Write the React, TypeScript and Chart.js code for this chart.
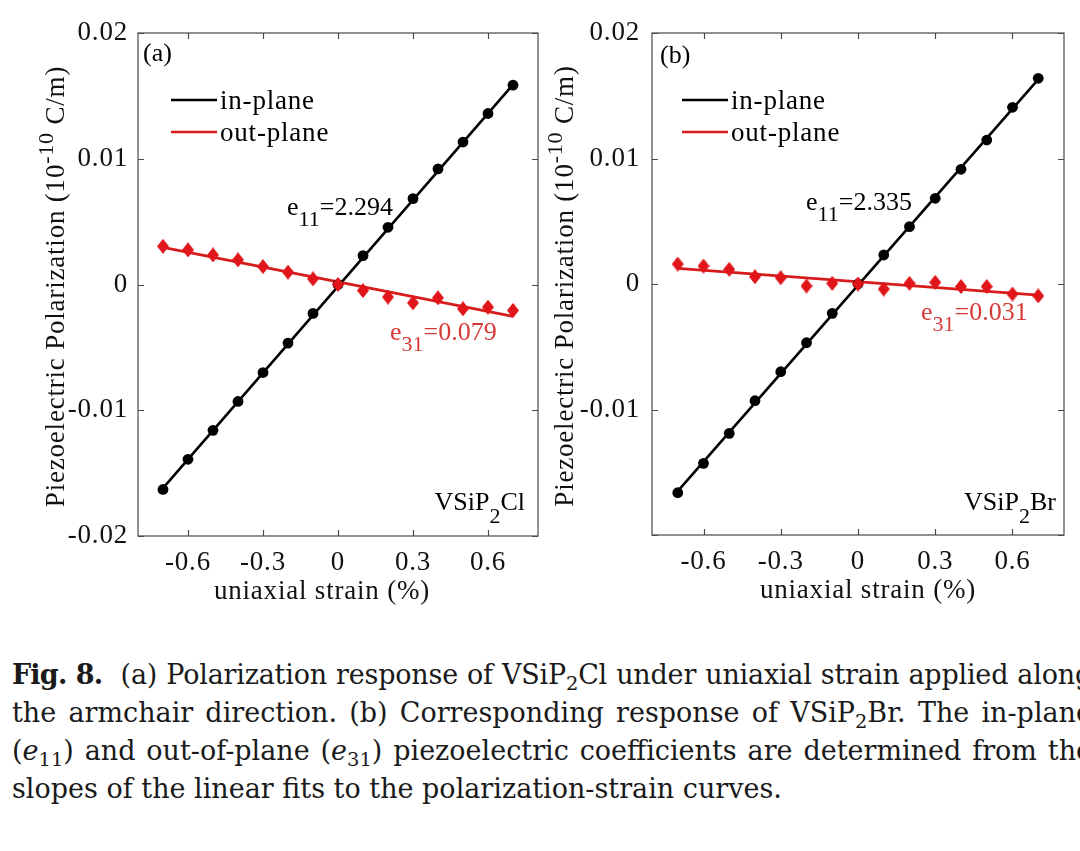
import React, { useEffect, useRef } from 'react';
import { Chart, registerables } from 'chart.js';

Chart.register(...registerables);

// ---------- data ----------
const strain = [-0.7, -0.6, -0.5, -0.4, -0.3, -0.2, -0.1, 0, 0.1, 0.2, 0.3, 0.4, 0.5, 0.6, 0.7];

const inPlaneCl = [-0.0163, -0.0139, -0.0116, -0.0093, -0.0070, -0.00466, -0.0023, 0, 0.0023, 0.00455, 0.00683, 0.0092, 0.01133, 0.0136, 0.01585];
const outPlaneCl = [0.00304, 0.00275, 0.00235, 0.00196, 0.00143, 0.00098, 0.00045, 0, -0.00048, -0.0010, -0.00146, -0.00106, -0.00193, -0.0018, -0.00206];

const inPlaneBr = [-0.01663, -0.01429, -0.0119, -0.0093, -0.00699, -0.00468, -0.00234, 0, 0.00231, 0.00457, 0.00683, 0.00914, 0.01147, 0.01408, 0.01639];
const outPlaneBr = [0.00159, 0.00143, 0.00117, 0.00058, 0.0005, -0.00016, 0.00005, 0, -0.0004, 0.00005, 0.00013, -0.0002, -0.0002, -0.0008, -0.00095];

const fitStrain = [-0.7, 0.7];
const fitInPlaneCl = [-0.0162, 0.0159];
const fitOutPlaneCl = [0.00296, -0.00254];
const fitInPlaneBr = [-0.0165, 0.0163];
const fitOutPlaneBr = [0.00125, -0.00088];

const xTicks = [-0.6, -0.3, 0, 0.3, 0.6];
const xTickLabels = ['-0.6', '-0.3', '0', '0.3', '0.6'];
const yTicks = [-0.02, -0.01, 0, 0.01, 0.02];
const yTickLabelsCl = ['-0.02', '-0.01', '0', '0.01', '0.02'];
const yTickLabelsBr = ['', '-0.01', '0', '0.01', '0.02'];

// ---------- styling ----------
const SERIF = "'Liberation Serif', 'Times New Roman', serif";
const FS = 27;
const FS_NOTE = 26;
const LS = '0.8px';
const BLACK = '#000000';
const RED = '#e0161b';
const RED_LINE = '#d81c1c';
const RED_TEXT = '#d63a36';
const AXIS = '#4a4a4a';

type Seg = { t: string; dy?: number; scale?: number };

interface Panel {
  inPlane: number[];
  outPlane: number[];
  fitIn: number[];
  fitOut: number[];
  yLabels: string[];
  tag: string;
  e11: string;
  e31: string;
  material: Seg[];
  left: number;
  width: number;
  yAxisWidth: number;
  yTickPad: number;
  rightPad: number;
  xAxisHeight: number;
  yTitleDx: number;
  xTitleDx: number;
  legendDx: number;
  tagPos: [number, number];
  e11Pos: [number, number];
  e31Pos: [number, number];
  matPos: [number, number];
}

const panels: Panel[] = [
  {
    inPlane: inPlaneCl, outPlane: outPlaneCl, fitIn: fitInPlaneCl, fitOut: fitOutPlaneCl,
    yLabels: yTickLabelsCl, tag: '(a)', e11: '=2.294', e31: '=0.079',
    material: [{ t: 'VSiP' }, { t: '2', dy: 13, scale: 0.85 }, { t: 'Cl' }],
    left: 0, width: 545, yAxisWidth: 138, yTickPad: 10, rightPad: 4, xAxisHeight: 72,
    yTitleDx: -74, xTitleDx: -16, legendDx: 33,
    tagPos: [5, 28], e11Pos: [149, 182], e31Pos: [252, 307], matPos: [-13, 477],
  },
  {
    inPlane: inPlaneBr, outPlane: outPlaneBr, fitIn: fitInPlaneBr, fitOut: fitOutPlaneBr,
    yLabels: yTickLabelsBr, tag: '(b)', e11: '=2.335', e31: '=0.031',
    material: [{ t: 'VSiP' }, { t: '2', dy: 13, scale: 0.85 }, { t: 'Br' }],
    left: 545, width: 535, yAxisWidth: 107, yTickPad: 12, rightPad: 16, xAxisHeight: 73,
    yTitleDx: -79, xTitleDx: 10, legendDx: 30,
    tagPos: [8, 30], e11Pos: [154, 177], e31Pos: [269, 287], matPos: [-8, 477],
  },
];

function drawRich(
  ctx: CanvasRenderingContext2D, segs: Seg[], x: number, y: number,
  size: number, color: string, align: 'left' | 'right' | 'center', spacing = LS,
) {
  const fontFor = (s: Seg) => `${Math.round(size * (s.scale ?? 1))}px ${SERIF}`;
  (ctx as any).letterSpacing = spacing;
  let total = 0;
  const widths = segs.map((s) => {
    ctx.font = fontFor(s);
    const w = ctx.measureText(s.t).width;
    total += w;
    return w;
  });
  let cx = align === 'left' ? x : align === 'right' ? x - total : x - total / 2;
  ctx.fillStyle = color;
  ctx.textAlign = 'left';
  ctx.textBaseline = 'alphabetic';
  segs.forEach((s, i) => {
    ctx.font = fontFor(s);
    ctx.fillText(s.t, cx, y + (s.dy ?? 0));
    cx += widths[i];
  });
}

function makeDiamond(w: number, h: number, color: string) {
  const c = document.createElement('canvas');
  c.width = w;
  c.height = h;
  const g = c.getContext('2d')!;
  g.fillStyle = color;
  g.beginPath();
  g.moveTo(w / 2, 0);
  g.lineTo(w, h / 2);
  g.lineTo(w / 2, h);
  g.lineTo(0, h / 2);
  g.closePath();
  g.fill();
  return c;
}

function decorPlugin(p: Panel) {
  return {
    id: 'decor',
    beforeDraw(chart: any) {
      (chart.ctx as any).letterSpacing = LS;
    },
    afterDraw(chart: any) {
      const { ctx, chartArea: a, scales } = chart;
      const xs = scales.x;
      const ys = scales.y;
      ctx.save();
      // box + inward ticks on all sides
      ctx.strokeStyle = AXIS;
      ctx.lineWidth = 1.2;
      ctx.strokeRect(a.left, a.top, a.right - a.left, a.bottom - a.top);
      const tl = 6;
      ctx.beginPath();
      xs.ticks.forEach((t: any) => {
        const px = Math.round(xs.getPixelForValue(t.value)) + 0.5;
        ctx.moveTo(px, a.bottom); ctx.lineTo(px, a.bottom - tl);
        ctx.moveTo(px, a.top); ctx.lineTo(px, a.top + tl);
      });
      ys.ticks.forEach((t: any) => {
        const py = Math.round(ys.getPixelForValue(t.value)) + 0.5;
        ctx.moveTo(a.left, py); ctx.lineTo(a.left + tl, py);
        ctx.moveTo(a.right, py); ctx.lineTo(a.right - tl, py);
      });
      ctx.stroke();

      // axis titles
      const cxMid = (a.left + a.right) / 2;
      const cyMid = (a.top + a.bottom) / 2;
      drawRich(ctx, [{ t: 'uniaxial strain (%)' }], cxMid + p.xTitleDx, a.bottom + 63, FS, '#111', 'center');
      ctx.save();
      ctx.translate(a.left + p.yTitleDx, cyMid + 2);
      ctx.rotate(-Math.PI / 2);
      drawRich(ctx, [
        { t: 'Piezoelectric Polarization (10' },
        { t: '-10', dy: -11, scale: 0.8 },
        { t: ' C/m)' },
      ], 0, 0, FS, '#111', 'center');
      ctx.restore();

      // legend
      const lx = a.left + p.legendDx;
      ctx.lineWidth = 2.6;
      ctx.strokeStyle = BLACK;
      ctx.beginPath(); ctx.moveTo(lx, a.top + 67); ctx.lineTo(lx + 46, a.top + 67); ctx.stroke();
      ctx.strokeStyle = RED_LINE;
      ctx.beginPath(); ctx.moveTo(lx, a.top + 99); ctx.lineTo(lx + 46, a.top + 99); ctx.stroke();
      drawRich(ctx, [{ t: 'in-plane' }], lx + 49, a.top + 76, FS, '#000', 'left');
      drawRich(ctx, [{ t: 'out-plane' }], lx + 49, a.top + 108, FS, '#000', 'left');

      // annotations
      drawRich(ctx, [{ t: p.tag }], a.left + p.tagPos[0], a.top + p.tagPos[1], FS_NOTE, '#000', 'left', '0px');
      drawRich(ctx, [{ t: 'e' }, { t: '11', dy: 11, scale: 0.85 }, { t: p.e11 }],
        a.left + p.e11Pos[0], a.top + p.e11Pos[1], FS_NOTE, '#000', 'left', '0px');
      drawRich(ctx, [{ t: 'e' }, { t: '31', dy: 11, scale: 0.85 }, { t: p.e31 }],
        a.left + p.e31Pos[0], a.top + p.e31Pos[1], FS_NOTE, RED_TEXT, 'left', '0px');
      drawRich(ctx, p.material, a.right + p.matPos[0], a.top + p.matPos[1], FS_NOTE, '#000', 'right', '0px');
      ctx.restore();
    },
  };
}

function PanelChart({ p }: { p: Panel }) {
  const ref = useRef<HTMLCanvasElement | null>(null);
  useEffect(() => {
    if (!ref.current) return;
    const diamond = makeDiamond(12, 15, RED);
    const pts = (ys: number[], xs: number[]) => xs.map((x, i) => ({ x, y: ys[i] }));
    const chart = new Chart(ref.current, {
      type: 'scatter',
      data: {
        datasets: [
          {
            label: 'out-plane data', data: pts(p.outPlane, strain), order: 0,
            pointStyle: diamond as any, pointRadius: 6, showLine: false,
            backgroundColor: RED, borderColor: RED,
          },
          {
            label: 'in-plane data', data: pts(p.inPlane, strain), order: 1,
            pointStyle: 'circle', pointRadius: 5.4, borderWidth: 0, showLine: false,
            backgroundColor: BLACK, borderColor: BLACK,
          },
          {
            label: 'out-plane', data: pts(p.fitOut, fitStrain), order: 2,
            showLine: true, pointRadius: 0, borderColor: RED_LINE, borderWidth: 2.8,
          },
          {
            label: 'in-plane', data: pts(p.fitIn, fitStrain), order: 3,
            showLine: true, pointRadius: 0, borderColor: BLACK, borderWidth: 2.6,
          },
        ],
      },
      options: {
        responsive: false,
        maintainAspectRatio: false,
        animation: false,
        events: [],
        layout: { padding: { left: 0, top: 33, right: p.rightPad, bottom: 12 } },
        plugins: { legend: { display: false }, tooltip: { enabled: false }, title: { display: false } },
        scales: {
          x: {
            type: 'linear', min: -0.8, max: 0.8,
            grid: { display: false, drawTicks: false },
            border: { display: false },
            afterBuildTicks: (s: any) => { s.ticks = xTicks.map((v) => ({ value: v })); },
            afterFit: (s: any) => { s.height = p.xAxisHeight; },
            ticks: {
              autoSkip: false, maxRotation: 0, padding: 11, color: '#111',
              font: { family: SERIF, size: FS },
              callback: (_v: any, i: number) => xTickLabels[i],
            },
          },
          y: {
            type: 'linear', min: -0.02, max: 0.02,
            grid: { display: false, drawTicks: false },
            border: { display: false },
            afterBuildTicks: (s: any) => { s.ticks = yTicks.map((v) => ({ value: v })); },
            afterFit: (s: any) => { s.width = p.yAxisWidth; },
            ticks: {
              autoSkip: false, padding: p.yTickPad, color: '#111',
              font: { family: SERIF, size: FS },
              callback: (_v: any, i: number) => p.yLabels[i],
            },
          },
        },
      } as any,
      plugins: [decorPlugin(p)],
    });
    return () => chart.destroy();
  }, [p]);
  return (
    <canvas
      ref={ref}
      width={p.width}
      height={620}
      style={{ position: 'absolute', left: p.left, top: 0, width: p.width, height: 620 }}
    />
  );
}

const lineJ: React.CSSProperties = { textAlign: 'justify', textAlignLast: 'justify' };
const line1: React.CSSProperties = { ...lineJ, wordSpacing: '-7px', letterSpacing: '-0.2px' };
const subS: React.CSSProperties = { fontSize: '0.72em', verticalAlign: '-0.3em', lineHeight: 0 };

export default function App() {
  return (
    <div style={{ position: 'absolute', left: 0, top: 0, width: 1080, height: 851, overflow: 'hidden', background: '#fff' }}>
      {panels.map((p, i) => <PanelChart key={i} p={p} />)}
      <div
        style={{
          position: 'absolute', left: 12, top: 656, width: 1080,
          fontFamily: "'DejaVu Serif', serif", fontSize: 27, lineHeight: '38px', color: '#1a1a1a',
        }}
      >
        <div style={line1}>
          <b style={{ letterSpacing: '-0.8px' }}>Fig. 8.</b>&nbsp; (a) Polarization response of VSiP<span style={subS}>2</span>Cl under uniaxial strain applied along
        </div>
        <div style={lineJ}>
          the armchair direction. (b) Corresponding response of VSiP<span style={subS}>2</span>Br. The in-plane
        </div>
        <div style={lineJ}>
          (<i>e</i><span style={subS}>11</span>) and out-of-plane (<i>e</i><span style={subS}>31</span>) piezoelectric coefficients are determined from the
        </div>
        <div style={{ textAlign: 'left' }}>
          slopes of the linear fits to the polarization-strain curves.
        </div>
      </div>
    </div>
  );
}
